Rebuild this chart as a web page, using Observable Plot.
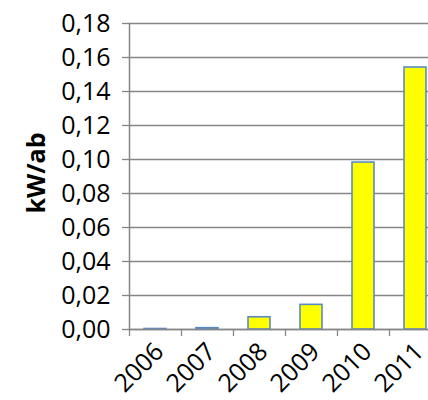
<!DOCTYPE html>
<html>
<head>
<meta charset="utf-8">
<script src="https://cdn.jsdelivr.net/npm/d3@7"></script>
<script src="https://cdn.jsdelivr.net/npm/@observablehq/plot@0.6"></script>
<style>
  html, body { margin: 0; padding: 0; overflow: hidden; background: #fff; width: 428px; height: 400px; }
  #wrap { position: relative; width: 428px; height: 400px; overflow: hidden; }
  #title { position: absolute; top: -29px; left: 190px; width: 200px; text-align: center;
           font: bold 22px "Open Sans", sans-serif; color: #000; white-space: nowrap; }
  #chart { position: absolute; top: 0; left: 0; width: 441px; }
  #chart svg { max-width: none !important; width: 441px; height: 400px; }
  #chart svg text { font-size: 25px !important; font-family: "Open Sans", sans-serif !important; }
</style>
</head>
<body>
<div id="wrap">
  <div id="title">(pro capite)</div>
  <div id="chart"></div>
</div>
<script>
const years = ["2006", "2007", "2008", "2009", "2010", "2011"];
const values = [0.0003, 0.0008, 0.0072, 0.0145, 0.0982, 0.1541];
const yTicks = [0, 0.02, 0.04, 0.06, 0.08, 0.10, 0.12, 0.14, 0.16, 0.18];
const yLabel = "kW/ab";

const data = years.map((y, i) => ({year: y, value: values[i]}));
const fmt = d => d.toFixed(2).replace(".", ",");

const chart = Plot.plot({
  width: 441,
  height: 400,
  marginLeft: 129,
  marginRight: 0,
  marginTop: 23,
  marginBottom: 71,
  style: {fontFamily: "'Open Sans', sans-serif", fontSize: "25px", color: "#000", background: "transparent", maxWidth: "none"},
  x: {domain: years, paddingInner: 0.58, paddingOuter: 0.29, align: 0.5, label: null},
  y: {domain: [0, 0.18], label: null},
  marks: [
    Plot.gridY(yTicks, {stroke: "#868686", strokeOpacity: 1, strokeWidth: 1.3}),
    Plot.axisY(yTicks, {tickFormat: fmt, tickSize: 7, tickPadding: 12, stroke: "#868686", strokeWidth: 1.3, fill: "#000", label: null, fontSize: 25}),
    Plot.frame({anchor: "left", stroke: "#868686", strokeWidth: 1.5}),
    Plot.barY(data, {x: "year", y: "value", fill: "#FFFF00", stroke: "#5A8AC6", strokeWidth: 1.6}),
    Plot.ruleY([0], {stroke: "#868686", strokeWidth: 1.5}),
    Plot.axisX({tickSize: 7, text: null, label: null, dx: -26, stroke: "#868686", strokeWidth: 1.3}),
    Plot.axisX({tickSize: 0, tickRotate: -45, tickPadding: 12, textAnchor: "end", fill: "#000", label: null, fontSize: 25, dx: 4, dy: 6})
  ]
});
document.getElementById("chart").appendChild(chart);

// rotated y-axis title
const svg = d3.select(chart);
svg.append("text")
  .attr("transform", "translate(45,173) rotate(-90)")
  .attr("text-anchor", "middle")
  .style("font-weight", "bold")
  .attr("fill", "#000")
  .text(yLabel);
</script>
</body>
</html>
